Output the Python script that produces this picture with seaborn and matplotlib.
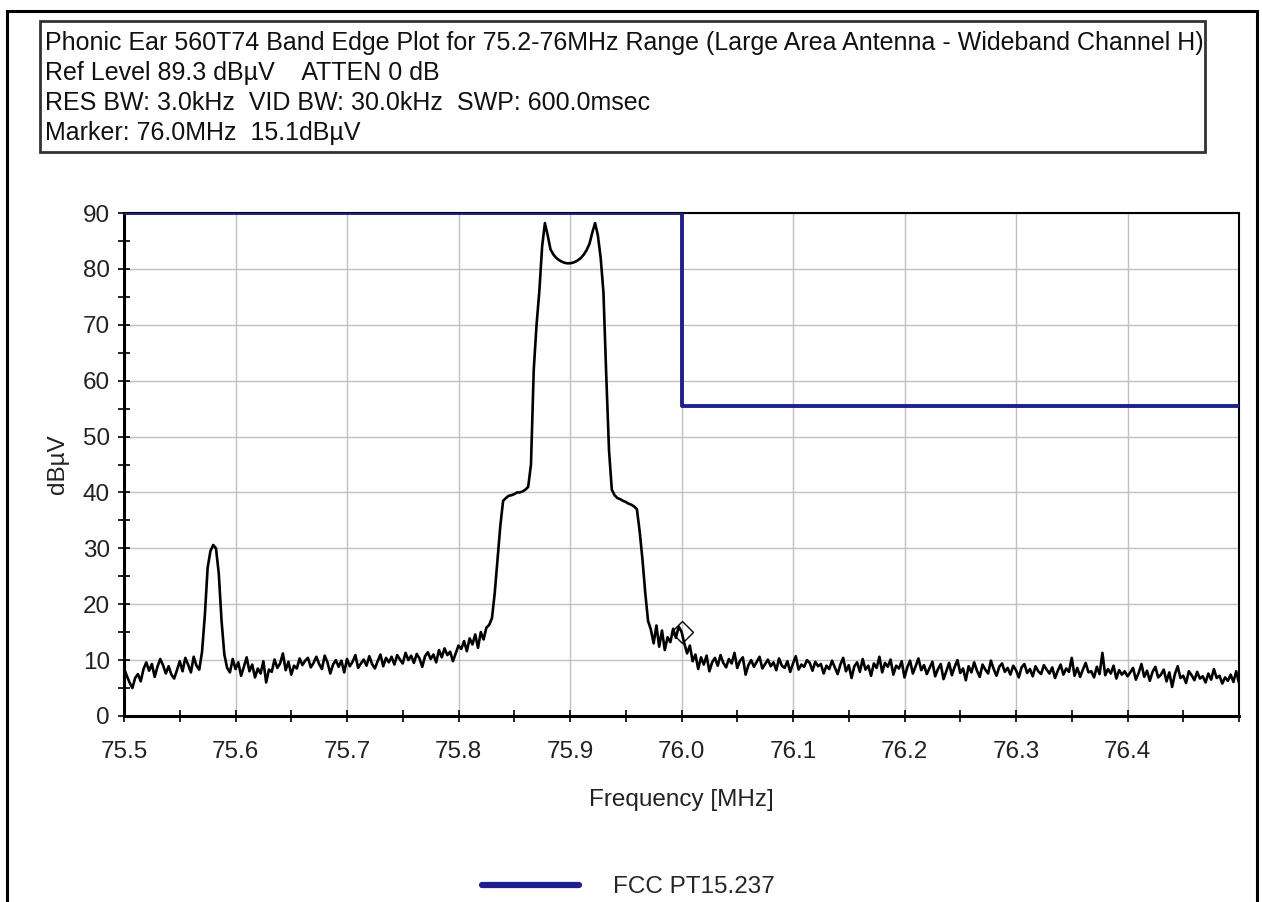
import numpy as np
import pandas as pd
import matplotlib
matplotlib.use("Agg")
import matplotlib.pyplot as plt
import seaborn as sns
from matplotlib.patches import Rectangle
from matplotlib.ticker import MultipleLocator, FormatStrFormatter

# --- sweep settings (uniform analyzer sweep grid) ---
FREQ_START = 75.5
FREQ_STOP = 76.5
N_POINTS = 401

level_low_band = [8.5, 7.2, 6.0, 5.0, 6.8, 7.5, 6.2, 8.4, 9.6, 8.1, 9.3, 7.0, 8.8, 10.2,
                  9.1, 7.6, 8.9, 7.4, 6.7, 8.2, 9.8, 8.0, 10.4, 9.2, 7.8, 10.6, 9.0, 8.3]
level_spur = [11.5, 18.0, 26.5, 29.5, 30.6, 30.0, 25.5, 17.0, 11.0, 8.6]
level_mid_band = [7.8, 10.2, 8.4, 9.6, 7.2, 8.8, 10.5, 8.0, 9.2, 6.9, 8.5, 7.6,
                  9.8, 6.0, 8.3, 7.9, 10.1, 8.6, 9.4, 11.2, 8.2, 9.7, 7.4, 9.0,
                  8.5, 10.3, 9.1, 9.9, 10.4, 8.7, 9.5, 10.6, 9.3, 8.4, 10.8, 9.6,
                  7.6, 9.2, 10.0, 8.8, 9.9, 7.8, 10.2, 8.9, 9.7, 10.9, 8.6, 9.4,
                  10.1, 9.0, 10.7, 9.3, 8.5, 9.8, 11.0, 8.9, 10.4, 9.6, 10.6, 9.2,
                  10.9, 10.1, 9.4, 11.3, 10.0, 10.8, 9.5, 11.1, 10.3, 8.8, 10.7, 11.4,
                  10.2, 11.0, 9.6, 11.8, 10.5, 12.1, 10.9, 11.5, 9.8, 11.2, 12.6]
level_ramp = [12.0, 13.4, 11.6, 13.9, 12.8, 14.6, 12.2, 15.0, 13.7, 15.8, 16.3]
level_carrier = [17.5, 22.0, 28.0, 34.0, 38.5, 39.0, 39.4, 39.5, 39.7, 40.0, 40.0, 40.2, 40.5, 41.0,
                 45.0, 62.0, 70.0, 76.0, 84.0, 88.2, 86.0, 83.5, 82.6, 82.0, 81.6, 81.3, 81.1, 81.0, 81.0,
                 81.1, 81.3, 81.6, 82.0, 82.6, 83.4, 84.5, 86.5, 88.2, 86.0, 82.0, 75.8, 61.0, 47.5, 40.5,
                 39.5, 39.0, 38.8, 38.5, 38.3, 38.0, 37.8, 37.5, 37.0, 33.0, 28.0, 22.0, 17.0,
                 15.5, 13.0, 16.2, 12.4, 15.3, 11.8, 14.1, 13.2, 15.6, 14.0, 16.0,
                 15.1]
level_high_band = [13.0, 11.2, 12.6, 9.8, 11.0, 8.4, 10.5, 9.2, 10.8, 8.0, 9.6, 10.4,
                   9.0, 10.9, 9.5, 8.7, 10.2, 9.4, 11.3, 8.6, 9.9, 10.5, 7.4, 9.1, 10.0, 8.8, 9.7, 10.6, 8.5, 9.3, 10.1, 8.9,
                   9.6, 8.2, 10.3, 9.0, 8.6, 9.8, 7.9, 9.4, 10.7, 8.3, 9.2, 8.8, 10.0, 9.5, 8.1, 9.7, 8.9, 9.3, 7.6, 9.0,
                   8.4, 9.9, 8.7, 7.5, 9.2, 10.4, 8.0, 9.1, 6.8, 8.9, 9.6, 7.9, 10.2, 8.3, 9.0, 7.2, 9.4, 8.6, 10.6, 7.8,
                   9.5, 8.8, 10.1, 7.4, 9.0, 8.5, 9.8, 6.9, 8.7, 9.9, 7.6, 8.9, 10.3, 8.2, 9.1, 7.5, 8.6, 9.7, 7.1, 8.4,
                   9.3, 6.6, 8.0, 9.5, 7.3, 8.8, 10.0, 7.7, 8.5, 6.4, 8.9, 7.8, 9.6, 8.1, 7.0, 9.2, 8.3, 7.6, 9.9, 8.4,
                   7.2, 8.8, 9.4, 7.9, 8.6, 7.4, 9.0, 8.2, 6.9, 8.7, 9.3, 7.7, 8.4, 7.1, 8.9, 8.0, 7.5, 9.1, 8.3, 7.6,
                   8.7, 6.8, 8.1, 9.2, 7.4, 8.5, 7.9, 10.4, 7.2, 8.6, 7.0, 8.3, 9.5, 7.8, 8.0, 6.9, 8.8, 7.5, 11.3, 7.3,
                   8.4, 7.6, 9.0, 6.7, 8.2, 7.4, 8.0, 7.1, 7.8, 8.6, 6.5, 7.7, 9.3, 7.0, 8.1, 6.3, 7.9, 8.8, 6.9, 7.4,
                   8.3, 6.2, 7.8, 5.2, 7.5, 8.9, 6.8, 7.2, 5.9, 8.0, 7.3, 6.4, 7.9, 6.7, 7.1, 6.0, 7.6, 6.5, 8.4, 6.8,
                   7.2, 5.8, 6.9, 6.3, 7.4, 6.1, 8.0, 5.9]

# --- FCC PT15.237 limit ---
limit_freq = [75.5, 76.0, 76.0, 76.5]
limit_level = [90.0, 90.0, 55.4, 55.4]
limit_label = "FCC PT15.237"

# --- marker ---
marker_freq = 76.0
marker_level = 15.1

header_lines = [
    "Phonic Ear 560T74 Band Edge Plot for 75.2-76MHz Range (Large Area Antenna - Wideband Channel H)",
    "Ref Level 89.3 dB\u00b5V    ATTEN 0 dB",
    "RES BW: 3.0kHz  VID BW: 30.0kHz  SWP: 600.0msec",
    "Marker: 76.0MHz  15.1dB\u00b5V",
]

levels = (level_low_band + level_spur + level_mid_band + level_ramp
          + level_carrier + level_high_band)
trace = pd.DataFrame({"freq": np.linspace(FREQ_START, FREQ_STOP, N_POINTS),
                      "level": levels})
limit = pd.DataFrame({"freq": limit_freq, "level": limit_level})

sns.set_theme(style="white")
plt.rcParams["font.family"] = ["Liberation Sans", "DejaVu Sans"]

W, H = 1262, 902
fig = plt.figure(figsize=(W / 100, H / 100), dpi=100)
ax = fig.add_axes([124 / W, 1 - 716 / H, (1239 - 124) / W, (716 - 213) / H])

blue = "#1f1f8f"
sns.lineplot(data=trace, x="freq", y="level", ax=ax, color="black", lw=1.9,
             estimator=None, sort=False, zorder=3)
sns.lineplot(data=limit, x="freq", y="level", ax=ax, color=blue, lw=2.8,
             estimator=None, sort=False, zorder=4, label=limit_label)
ax.plot([marker_freq], [marker_level], marker="D", ms=11, mfc="none",
        mec="black", mew=1.0, zorder=5, ls="none")

ax.set_xlim(FREQ_START, FREQ_STOP)
ax.set_ylim(0, 90)
ax.xaxis.set_major_locator(MultipleLocator(0.1))
ax.xaxis.set_minor_locator(MultipleLocator(0.05))
ax.yaxis.set_major_locator(MultipleLocator(10))
ax.yaxis.set_minor_locator(MultipleLocator(5))
ax.xaxis.set_major_formatter(FormatStrFormatter("%.1f"))
xt = ax.get_xticks()
ax.set_xticks([t for t in xt if t < 76.45 and t >= 75.49])
ax.set_xlim(FREQ_START, FREQ_STOP)

ax.grid(True, which="major", color="#c0c0c0", lw=1.0)
ax.tick_params(which="both", direction="inout", length=8, width=1.2,
               color="black", labelsize=17.5, labelcolor="#222222")
ax.tick_params(axis="x", pad=14)
ax.tick_params(axis="y", pad=6)
ax.xaxis.set_ticks_position("bottom")
ax.yaxis.set_ticks_position("left")
for s in ax.spines.values():
    s.set_visible(True)
    s.set_color("black")
    s.set_linewidth(1.5)
ax.spines["left"].set_linewidth(2.2)
ax.spines["bottom"].set_linewidth(2.2)

ax.set_xlabel("Frequency [MHz]", fontsize=17.5, color="#222222", labelpad=19)
ax.set_ylabel("dB\u00b5V", fontsize=17.5, color="#222222", labelpad=10)

ax.get_legend().remove()
handles, labels = ax.get_legend_handles_labels()
leg = fig.legend(handles, labels, loc="center", bbox_to_anchor=(628 / W, 1 - 887 / H),
                 frameon=False, fontsize=17.5, handlelength=4.0, handletextpad=1.4)
for ln in leg.get_lines():
    ln.set_linewidth(4.5)

# outer frame and header box
fig.add_artist(Rectangle((7 / W, -0.05), (1257 - 7) / W, 1.05 - 11 / H,
                         transform=fig.transFigure, fill=False, ec="black", lw=2.2))
fig.add_artist(Rectangle((40 / W, 1 - 152 / H), (1205 - 40) / W, (152 - 21) / H,
                         transform=fig.transFigure, fill=False, ec="#333333", lw=2.0))
for i, line in enumerate(header_lines):
    fig.text(45 / W, 1 - (43 + 30 * i) / H, line, fontsize=18, color="#111111",
             va="center", ha="left")

fig.savefig("out.png", dpi=100, facecolor="white")
